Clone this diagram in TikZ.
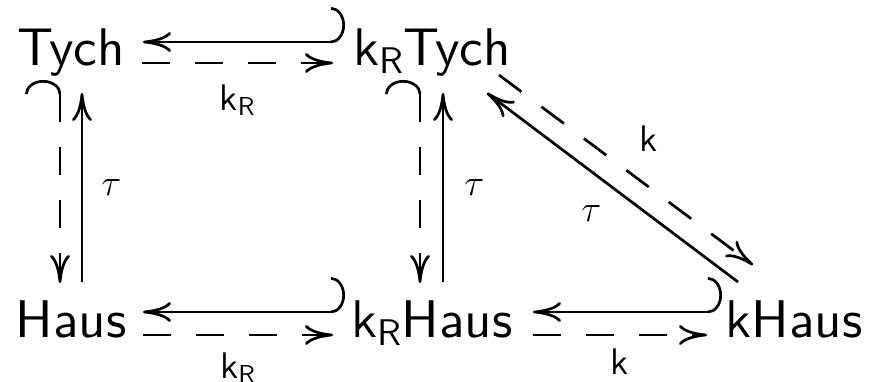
\documentclass[tikz,border=0pt]{standalone}
\usepackage{fix-cm}
\usepackage{fontspec}
\setsansfont{lmsans10-regular.otf}
\usetikzlibrary{arrows.meta,positioning}
\tikzset{
  >={Computer Modern Rightarrow[length=28pt,width=20pt]},
  incl/.style={{Hooks[left,length=14pt,width=70pt]}->},
  refl/.style={->,dash pattern=on 28pt off 25pt},
  hrefl/.style={incl,dash pattern=on 28pt off 25pt},
  obj/.style={anchor=base,inner sep=0pt,font=\fontsize{53}{60}\selectfont\sffamily},
  lbl/.style={inner sep=0pt,font=\fontsize{37}{40}\selectfont\sffamily},
}
\begin{document}
\begin{tikzpicture}[x=1pt,y=1pt,line width=2.7pt]
  \useasboundingbox (0,0) rectangle (871,382);
  \node[obj] (T)   at (71,316)  {Tych};
  \node[obj] (kRT) at (432,316) {k\textsubscript{R}Tych};
  \node[obj] (H)   at (71,44)   {Haus};
  \node[obj] (kRH) at (432,44)  {k\textsubscript{R}Haus};
  \node[obj] (kH)  at (794,44)  {kHaus};

  % top row
  \draw[incl] ([shift={(-87,24)}]kRT.base) -- ([shift={(72,24)}]T.base);
  \draw[refl] ([shift={(71,3)}]T.base)
    -- node[lbl,below=20pt] {k\textsubscript{R}} ([shift={(-99,3)}]kRT.base);

  % columns
  \draw[hrefl] ([shift={(-11,-14)}]T.base) -- ([shift={(-11,55)}]H.base);
  \draw[->] ([shift={(11,56)}]H.base)
    -- node[lbl,right=18pt] {$\tau$} ([shift={(11,-27)}]T.base);
  \draw[hrefl] ([shift={(-12,-14)}]kRT.base) -- ([shift={(-12,55)}]kRH.base);
  \draw[->] ([shift={(11,56)}]kRH.base)
    -- node[lbl,right=20pt] {$\tau$} ([shift={(11,-27)}]kRT.base);

  % diagonal
  \draw[->] ([shift={(-56,56)}]kH.base)
    -- node[lbl,below left=17pt and 10pt] {$\tau$} ([shift={(55,-27)}]kRT.base);
  \draw[refl] ([shift={(67,-9)}]kRT.base)
    -- node[lbl,above right=17pt and 12pt] {k} ([shift={(-41,73)}]kH.base);

  % bottom row
  \draw[incl] ([shift={(-87,26)}]kRH.base) -- ([shift={(72,26)}]H.base);
  \draw[refl] ([shift={(72,3)}]H.base)
    -- node[lbl,below=16pt] {k\textsubscript{R}} ([shift={(-99,3)}]kRH.base);
  \draw[incl] ([shift={(-72,26)}]kH.base) -- ([shift={(101,26)}]kRH.base);
  \draw[refl] ([shift={(101,3)}]kRH.base)
    -- node[lbl,below=12pt] {k} ([shift={(-87,3)}]kH.base);
\end{tikzpicture}
\end{document}
